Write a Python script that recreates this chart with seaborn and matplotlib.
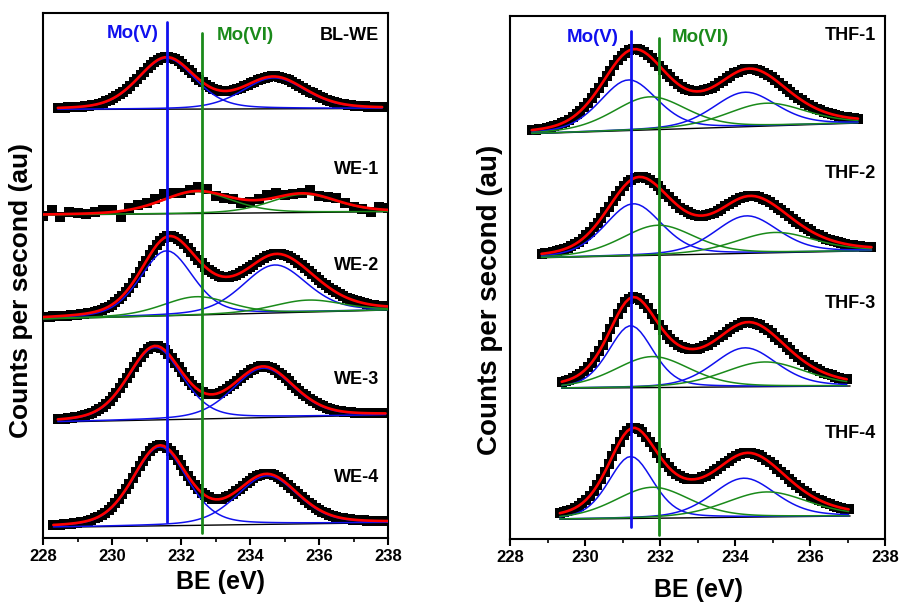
import numpy as np
import pandas as pd
import matplotlib
matplotlib.use("Agg")
import matplotlib.pyplot as plt
from matplotlib.ticker import MultipleLocator
import seaborn as sns

# ------------------------------------------------------------------ data
# Peak parameters: centre (eV), height (au), FWHM (eV)
# Left panel (WE series)
BLWE_pos, BLWE_amp, BLWE_fwhm, BLWE_col = [231.58, 234.70], [51, 31], [1.95, 2.15], ["V", "V"]
WE1_pos, WE1_amp, WE1_fwhm, WE1_col = [232.46, 235.55], [21.8, 18.2], [2.4, 2.3], ["VI", "VI"]
WE2_pos, WE2_amp, WE2_fwhm, WE2_col = [231.58, 234.72, 232.45, 235.69], [65, 48, 18.3, 12], [1.8, 2.2, 2.3, 2.4], ["V", "V", "VI", "VI"]
WE3_pos, WE3_amp, WE3_fwhm, WE3_col = [231.25, 234.39], [72.5, 49.5], [1.85, 2.1], ["V", "V"]
WE4_pos, WE4_amp, WE4_fwhm, WE4_col = [231.39, 234.50], [79, 48.6], [1.85, 2.1], ["V", "V"]
# Right panel (THF series)
THF1_pos, THF1_amp, THF1_fwhm = [231.16, 231.73, 234.27, 234.84], [50.6, 33.0, 34.5, 22.8], [1.8, 2.3, 2.0, 2.5]
THF2_pos, THF2_amp, THF2_fwhm = [231.29, 231.95, 234.31, 235.07], [52, 30, 37.5, 20.3], [1.8, 2.3, 2.0, 2.5]
THF3_pos, THF3_amp, THF3_fwhm = [231.22, 231.80, 234.27, 234.80], [62, 31, 39, 24.7], [1.4, 2.36, 2.0, 2.6]
THF4_pos, THF4_amp, THF4_fwhm = [231.22, 231.80, 234.24, 234.85], [62, 31, 39, 25], [1.4, 2.36, 2.0, 2.6]
THF_col = ["V", "VI", "V", "VI"]

# energy range and background (left, right) of every spectrum
left_names = ["BL-WE", "WE-1", "WE-2", "WE-3", "WE-4"]
left_lo = [228.43, 228.0, 228.0, 228.43, 228.3]
left_hi = [237.86, 238.0, 238.0, 238.0, 238.0]
left_bg0 = [428.5, 323.0, 219.0, 116.0, 10.7]
left_bg1 = [429.5, 326.3, 228.0, 123.0, 15.3]
left_label_y = [503, 368, 273, 159, 61]

right_names = ["THF-1", "THF-2", "THF-3", "THF-4"]
right_lo = [228.58, 228.84, 229.38, 229.33]
right_hi = [237.33, 237.64, 237.07, 237.07]
right_bg0 = [405.3, 281.3, 150.7, 19.7]
right_bg1 = [416.0, 288.3, 153.0, 23.0]
right_label_y = [504, 366, 236, 105]

# measured (noisy) WE-1 counts, 228 -> 238 eV in 0.25 eV steps
WE1_E = [228.0 + 0.25 * i for i in range(41)]
WE1_counts = [322.0, 328.0, 320.7, 326.3, 325.3, 324.0, 326.0, 328.0, 328.0, 320.7,
              330.3, 332.7, 334.7, 339.0, 343.7, 344.7, 345.3, 348.0, 351.3, 348.7,
              342.0, 339.7, 338.7, 335.3, 336.3, 338.7, 343.3, 344.7, 343.0, 344.0,
              345.3, 348.0, 342.0, 340.7, 339.7, 334.7, 331.3, 328.7, 326.3, 330.7, 329.7]

# reference lines: energy, bottom, top
left_MoV = [231.6, 16, 516]
left_MoVI = [232.62, 5, 505]
right_MoV = [231.22, 12, 508]
right_MoVI = [231.98, 4, 501]

# ------------------------------------------------------------------ style
sns.set_theme(style="ticks")
plt.rcParams["font.family"] = ["Liberation Sans", "DejaVu Sans"]
plt.rcParams["font.weight"] = "bold"
for k in ["text.color", "axes.labelcolor", "xtick.color", "ytick.color", "axes.edgecolor"]:
    plt.rcParams[k] = "black"

BLUE = "#1010ee"
GREEN = "#1a8a1a"
RED = "#ff0000"
COL = {"V": BLUE, "VI": GREEN}


def gl(E, c, h, w, m=0.3):
    x = (E - c) / w
    return h * ((1 - m) * np.exp(-4 * np.log(2) * x * x) + m / (1 + 4 * x * x))


def line(ax, x, y, color, lw, z):
    sns.lineplot(x=x, y=y, ax=ax, color=color, lw=lw, estimator=None, sort=False,
                 zorder=z, legend=False)


def spectrum(ax, lo, hi, bg0, bg1, pos, amp, fwhm, cols, meas=None):
    E = np.arange(lo, hi + 1e-9, 0.1)
    bg = np.linspace(bg0, bg1, len(E))
    comps = [gl(E, p, a, w) for p, a, w in zip(pos, amp, fwhm)]
    fit = bg + np.sum(comps, axis=0)
    if meas is None:
        df = pd.DataFrame({"E": E, "I": fit})
        sns.scatterplot(data=df, x="E", y="I", ax=ax, marker="s", s=55, color="black",
                        linewidth=0, zorder=2, legend=False)
    else:
        df = pd.DataFrame({"E": meas[0], "I": meas[1]})
        sns.scatterplot(data=df, x="E", y="I", ax=ax, marker="s", s=45, color="black",
                        linewidth=0, zorder=2, legend=False)
    line(ax, [lo, hi], [bg0, bg1], "black", 1.0, 3)
    for c, col in zip(comps, cols):
        line(ax, E, bg + c, COL[col], 1.1, 4)
    line(ax, E, fit, RED, 1.9, 5)


fig = plt.figure(figsize=(9.01, 6.04), dpi=100)
axL = fig.add_axes([43 / 901, 1 - 538 / 604, 345 / 901, 525 / 604])
axR = fig.add_axes([510 / 901, 1 - 539 / 604, 375 / 901, 523 / 604])

left_params = [(BLWE_pos, BLWE_amp, BLWE_fwhm, BLWE_col),
               (WE1_pos, WE1_amp, WE1_fwhm, WE1_col),
               (WE2_pos, WE2_amp, WE2_fwhm, WE2_col),
               (WE3_pos, WE3_amp, WE3_fwhm, WE3_col),
               (WE4_pos, WE4_amp, WE4_fwhm, WE4_col)]
for i, (p, a, w, c) in enumerate(left_params):
    meas = (WE1_E, WE1_counts) if left_names[i] == "WE-1" else None
    spectrum(axL, left_lo[i], left_hi[i], left_bg0[i], left_bg1[i], p, a, w, c, meas)
    axL.text(237.75, left_label_y[i], left_names[i], ha="right", va="center",
             fontsize=13, fontweight="bold", color="black")

right_params = [(THF1_pos, THF1_amp, THF1_fwhm), (THF2_pos, THF2_amp, THF2_fwhm),
                (THF3_pos, THF3_amp, THF3_fwhm), (THF4_pos, THF4_amp, THF4_fwhm)]
for i, (p, a, w) in enumerate(right_params):
    spectrum(axR, right_lo[i], right_hi[i], right_bg0[i], right_bg1[i], p, a, w, THF_col)
    axR.text(237.75, right_label_y[i], right_names[i], ha="right", va="center",
             fontsize=13, fontweight="bold", color="black")

for ax, mv, mvi, top in [(axL, left_MoV, left_MoVI, 525), (axR, right_MoV, right_MoVI, 523)]:
    line(ax, [mv[0], mv[0]], [mv[1], mv[2]], BLUE, 2.0, 6)
    line(ax, [mvi[0], mvi[0]], [mvi[1], mvi[2]], GREEN, 2.0, 6)
    ax.set_xlim(228, 238)
    ax.set_ylim(0, top)
    ax.xaxis.set_major_locator(MultipleLocator(2))
    ax.xaxis.set_minor_locator(MultipleLocator(1))
    ax.set_yticks([])
    ax.tick_params(axis="x", which="major", direction="out", length=5, width=1.5,
                   labelsize=12, pad=3, top=False, colors="black")
    ax.tick_params(axis="x", which="minor", direction="out", length=3, width=1.2, top=False)
    for lab in ax.get_xticklabels():
        lab.set_fontweight("bold")
        lab.set_color("black")
    for sp in ax.spines.values():
        sp.set_visible(True)
        sp.set_linewidth(1.5)
        sp.set_color("black")
    ax.set_xlabel("")
    ax.set_ylabel("")

axL.text(230.61, 505, "Mo(V)", color=BLUE, fontsize=13.5, fontweight="bold", ha="center", va="center")
axL.text(233.86, 503, "Mo(VI)", color=GREEN, fontsize=13.5, fontweight="bold", ha="center", va="center")
axR.text(230.21, 502, "Mo(V)", color=BLUE, fontsize=13.5, fontweight="bold", ha="center", va="center")
axR.text(233.07, 502, "Mo(VI)", color=GREEN, fontsize=13.5, fontweight="bold", ha="center", va="center")

fig.text(21 / 901, 1 - 290 / 604, "Counts per second (au)", rotation=90, ha="center", va="center",
         fontsize=19, fontweight="bold", color="black")
fig.text(490 / 901, 1 - 300 / 604, "Counts per second (au)", rotation=90, ha="center", va="center",
         fontsize=20, fontweight="bold", color="black")
fig.text(220 / 901, 1 - 582 / 604, "BE (eV)", ha="center", va="center", fontsize=18,
         fontweight="bold", color="black")
fig.text(698 / 901, 1 - 590 / 604, "BE (eV)", ha="center", va="center", fontsize=18,
         fontweight="bold", color="black")

fig.savefig("out.png", dpi=100)
